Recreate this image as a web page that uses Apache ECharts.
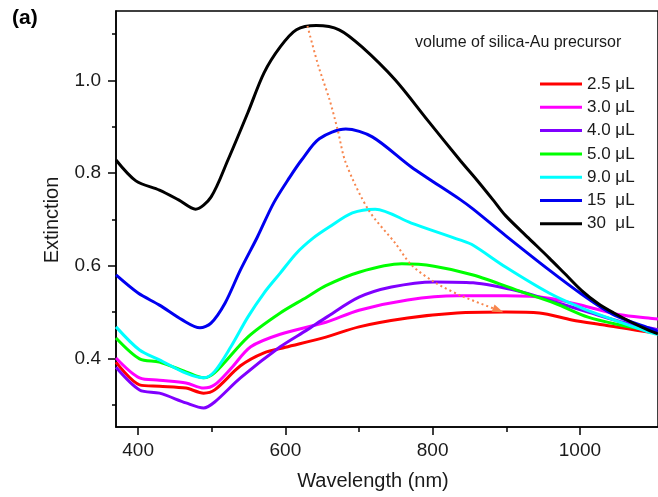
<!DOCTYPE html>
<html>
<head>
<meta charset="utf-8">
<script src="https://cdn.jsdelivr.net/npm/echarts@6/dist/echarts.min.js"></script>
<style>html,body{margin:0;padding:0;background:#fff;}#chart{width:658px;height:497px;}</style>
</head>
<body>
<div id="chart"></div>
<script>
// Data: [wavelength (nm), extinction]
const seriesNames = ['2.5 μL', '3.0 μL', '4.0 μL', '5.0 μL', '9.0 μL', '15  μL', '30  μL'];
const seriesColors = ['#ff0000', '#ff00ff', '#8000ff', '#00ff00', '#00ffff', '#0000f0', '#000000'];
const red25 = [[370,0.392],[402,0.343],[429,0.340],[465,0.336],[489,0.325],[504,0.332],[539,0.384],[571,0.412],[600,0.424],[655,0.446],[700,0.468],[766,0.487],[833,0.498],[899,0.500],[945,0.498],[989,0.483],[1033,0.472],[1093,0.457],[1106,0.455]];
const magenta30 = [[370,0.401],[402,0.358],[429,0.353],[465,0.347],[489,0.336],[504,0.343],[526,0.378],[553,0.425],[593,0.452],[655,0.478],[700,0.504],[766,0.526],[833,0.535],[899,0.535],[958,0.530],[1011,0.511],[1055,0.494],[1093,0.487],[1106,0.485]];
const purple40 = [[370,0.381],[402,0.332],[429,0.325],[465,0.304],[489,0.293],[504,0.306],[539,0.358],[593,0.425],[629,0.461],[655,0.488],[700,0.532],[744,0.554],[802,0.565],[855,0.563],[922,0.543],[966,0.522],[1011,0.500],[1055,0.479],[1093,0.466],[1106,0.462]];
const green50 = [[370,0.444],[402,0.399],[429,0.392],[465,0.371],[489,0.358],[504,0.369],[549,0.446],[593,0.498],[629,0.532],[655,0.557],[700,0.586],[758,0.604],[802,0.599],[855,0.580],[922,0.543],[966,0.519],[1011,0.489],[1055,0.472],[1093,0.461],[1106,0.457]];
const cyan90 = [[370,0.468],[402,0.418],[429,0.397],[465,0.368],[489,0.358],[504,0.372],[526,0.425],[549,0.489],[571,0.541],[593,0.584],[615,0.627],[638,0.660],[660,0.684],[691,0.714],[722,0.722],[771,0.692],[838,0.655],[855,0.644],[899,0.597],[958,0.541],[1002,0.509],[1046,0.483],[1093,0.457],[1106,0.452]];
const blue15 = [[370,0.580],[400,0.541],[429,0.515],[460,0.483],[484,0.466],[499,0.476],[518,0.519],[539,0.591],[562,0.662],[584,0.735],[606,0.791],[622,0.828],[646,0.874],[682,0.895],[718,0.878],[771,0.813],[838,0.742],[855,0.722],[899,0.665],[958,0.591],[1002,0.539],[1046,0.494],[1093,0.466],[1106,0.458]];
const black30 = [[370,0.828],[397,0.783],[429,0.763],[455,0.742],[478,0.722],[499,0.748],[522,0.828],[549,0.930],[571,1.016],[593,1.072],[615,1.109],[642,1.118],[673,1.109],[704,1.072],[749,1.001],[793,0.914],[838,0.826],[860,0.785],[882,0.742],[899,0.708],[930,0.660],[958,0.617],[980,0.582],[1002,0.547],[1025,0.518],[1046,0.498],[1070,0.478],[1093,0.461],[1106,0.453]];
const arrowPath = [[630,1.117],[645,1.030],[660,0.958],[671,0.893],[682,0.822],[713,0.720],[749,0.649],[771,0.602],[802,0.565],[839,0.535],[889,0.504]];
const xMajorTicks = [400, 600, 800, 1000];
const xMinorTicks = [500, 700, 900];
const yMajorTicks = [0.4, 0.6, 0.8, 1.0];
const yMinorTicks = [0.3, 0.5, 0.7, 0.9, 1.1];

const allSeries = [red25, magenta30, purple40, green50, cyan90, blue15, black30];
const FONT = 'Liberation Sans, Arial, sans-serif';
const chart = echarts.init(document.getElementById('chart'), null, {renderer: 'canvas'});

const xBase = {type: 'value', min: 370, max: 1106, gridIndex: 0, position: 'bottom', splitLine: {show: false}};
const yBase = {type: 'value', min: 0.252, max: 1.1495, gridIndex: 0, position: 'left', splitLine: {show: false}};

const arrowData = arrowPath.map((p, i) => i === arrowPath.length - 1
  ? {value: p, symbol: 'triangle', symbolSize: [8, 11], symbolRotate: -112}
  : {value: p, symbol: 'none'});

chart.setOption({
  animation: false,
  backgroundColor: '#fff',
  grid: {left: 116, top: 11, right: -10, bottom: 70, show: true, borderColor: '#000', borderWidth: 1.5, containLabel: false},
  xAxis: [
    Object.assign({}, xBase, {
      axisLine: {show: true, onZero: false, lineStyle: {color: '#000', width: 1.5}},
      axisTick: {show: true, inside: false, length: 8, customValues: xMajorTicks, lineStyle: {color: '#000', width: 1.5}},
      axisLabel: {show: true, customValues: xMajorTicks, margin: 14, fontSize: 19, color: '#1a1a1a', fontFamily: FONT,
        formatter: v => String(v)}
    }),
    Object.assign({}, xBase, {
      axisLine: {show: false, onZero: false},
      axisTick: {show: true, inside: false, length: 5, customValues: xMinorTicks, lineStyle: {color: '#000', width: 1.5}},
      axisLabel: {show: false}
    })
  ],
  yAxis: [
    Object.assign({}, yBase, {
      axisLine: {show: true, onZero: false, lineStyle: {color: '#000', width: 1.5}},
      axisTick: {show: true, inside: false, length: 8, customValues: yMajorTicks, lineStyle: {color: '#000', width: 1.5}},
      axisLabel: {show: true, customValues: yMajorTicks, margin: 15, fontSize: 19, color: '#1a1a1a', fontFamily: FONT,
        formatter: v => Number(v).toFixed(1)}
    }),
    Object.assign({}, yBase, {
      axisLine: {show: false, onZero: false},
      axisTick: {show: true, inside: false, length: 4, customValues: yMinorTicks, lineStyle: {color: '#000', width: 1.5}},
      axisLabel: {show: false}
    })
  ],
  legend: {
    orient: 'vertical', left: 540, top: 74, padding: 0,
    itemWidth: 42, itemHeight: 3, itemGap: 3.3,
    icon: 'rect',
    data: seriesNames.map(n => ({name: n})),
    textStyle: {fontSize: 17, color: '#1a1a1a', fontFamily: FONT, lineHeight: 20}
  },
  series: allSeries.map((d, i) => ({
    name: seriesNames[i], type: 'line', data: d, xAxisIndex: 0, yAxisIndex: 0,
    showSymbol: false, symbol: 'none', smooth: 0.3, clip: true,
    lineStyle: {color: seriesColors[i], width: 3},
    itemStyle: {color: seriesColors[i]}, z: 2 + i
  })).concat([{
    name: 'arrow', type: 'line', data: arrowData, xAxisIndex: 0, yAxisIndex: 0,
    smooth: 0.3, showSymbol: true, z: 20, silent: true,
    lineStyle: {color: '#f7864e', width: 2, type: [2, 3]},
    itemStyle: {color: '#f7864e'}
  }]),
  graphic: [
    {type: 'text', left: 12, top: 8, style: {text: '(a)', font: 'bold 21px ' + FONT, fill: '#000'}},
    {type: 'text', x: 415, y: 43, style: {text: 'volume of silica-Au precursor', font: '16px ' + FONT, fill: '#1a1a1a', textVerticalAlign: 'middle'}},
    {type: 'text', x: 373, y: 481, style: {text: 'Wavelength (nm)', font: '20px ' + FONT, fill: '#1a1a1a', textAlign: 'center', textVerticalAlign: 'middle'}},
    {type: 'text', x: 52, y: 220, rotation: Math.PI / 2, style: {text: 'Extinction', font: '20px ' + FONT, fill: '#1a1a1a', textAlign: 'center', textVerticalAlign: 'middle'}}
  ]
});
</script>
</body>
</html>
